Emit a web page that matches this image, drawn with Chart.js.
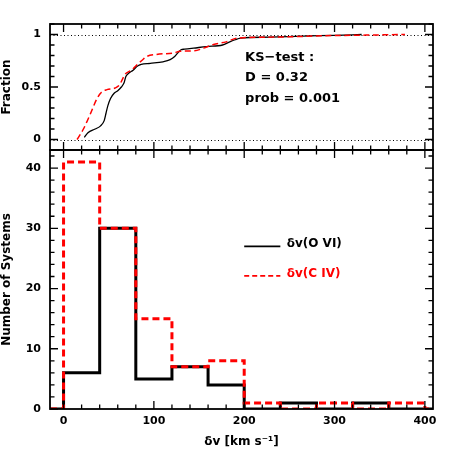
<!DOCTYPE html>
<html>
<head>
<meta charset="utf-8">
<script src="https://cdn.jsdelivr.net/npm/chart.js@4"></script>
<style>
  html, body { margin: 0; padding: 0; background: #fff; }
  #wrap { position: relative; width: 458px; height: 458px; }
  canvas { position: absolute; left: 0; top: 0; }
</style>
</head>
<body>
<div id="wrap">
  <canvas id="canvas_cdf" width="458" height="458"></canvas>
  <canvas id="canvas_hist" width="458" height="458"></canvas>
</div>
<script>

// histogram bins (km/s) and counts
var binEdges = [0, 40, 80, 120, 160, 200, 240, 280, 320, 360, 400];
var ovi_counts = [6, 30, 5, 7, 4, 0, 1, 0, 1, 0];
var civ_counts = [41, 30, 15, 7, 8, 1, 0, 1, 0, 1];

// cumulative distributions
var ovi_cdf_v = [23, 27, 35, 41, 45, 47, 49, 52, 56, 60, 64, 67, 69, 72, 77, 82, 86, 96, 110, 118, 123, 127, 130, 134, 144, 158, 176, 184, 190, 196, 228, 265, 300, 330];
var ovi_cdf_f = [0.02, 0.065, 0.1, 0.13, 0.18, 0.25, 0.32, 0.39, 0.44, 0.465, 0.5, 0.54, 0.6, 0.63, 0.66, 0.7, 0.715, 0.725, 0.74, 0.76, 0.79, 0.83, 0.855, 0.86, 0.87, 0.885, 0.9, 0.93, 0.95, 0.965, 0.975, 0.985, 0.992, 1.0];
var civ_cdf_v = [15, 22, 30, 37, 42, 48, 57, 62, 65, 68, 75, 81, 87, 92, 103, 122, 129, 145, 155, 166, 180, 192, 230, 300, 340, 378];
var civ_cdf_f = [0, 0.1, 0.25, 0.39, 0.45, 0.475, 0.49, 0.52, 0.57, 0.62, 0.66, 0.71, 0.755, 0.79, 0.81, 0.825, 0.84, 0.845, 0.87, 0.905, 0.93, 0.965, 0.975, 0.99, 0.995, 1.0];

var xTicks = [0, 100, 200, 300, 400];
var fracTicks = [0, 0.5, 1];
var countTicks = [0, 10, 20, 30, 40];
var ksLines = ['KS\u2212test :', 'D = 0.32', 'prob = 0.001'];
var seriesLabels = ['\u03b4v(O VI)', '\u03b4v(C IV)'];

var X_MIN = -15, X_MAX = 409;

function steps(edges, counts) {
  var pts = [{x: X_MIN, y: 0}];
  for (var i = 0; i < counts.length; i++) pts.push({x: edges[i], y: counts[i]});
  pts.push({x: edges[edges.length - 1], y: 0});
  pts.push({x: X_MAX, y: 0});
  return pts;
}

function pairs(xs, ys) {
  var pts = [];
  for (var i = 0; i < xs.length; i++) pts.push({x: xs[i], y: ys[i]});
  return pts;
}

function setTicks(list) {
  return function(scale) { scale.ticks = list.map(function(v) { return {value: v}; }); };
}

Chart.defaults.font.family = 'DejaVu Sans';
Chart.defaults.color = '#000';

// frame with inward ticks on all four sides
var frameTicks = {
  id: 'frameTicks',
  beforeDatasetsDraw: function(chart, args, opts) {
    var ctx = chart.ctx, a = chart.chartArea, ys = chart.scales.y;
    if (!opts.refLines) return;
    ctx.save();
    ctx.strokeStyle = '#000';
    ctx.lineWidth = 1;
    ctx.setLineDash([1, 2.5]);
    opts.refLines.forEach(function(v) {
      var p = Math.round(ys.getPixelForValue(v)) + 0.5;
      ctx.beginPath(); ctx.moveTo(a.left, p); ctx.lineTo(a.right, p); ctx.stroke();
    });
    ctx.restore();
  },
  afterDraw: function(chart, args, opts) {
    var ctx = chart.ctx, a = chart.chartArea;
    var xs = chart.scales.x, ys = chart.scales.y;
    function list(scale, step) {
      var out = [];
      for (var k = Math.ceil(scale.min / step - 1e-9); k * step <= scale.max + 1e-9; k++) out.push(k * step);
      return out;
    }
    function isMajor(scale, v) {
      return scale.ticks.some(function(t) { return Math.abs(t.value - v) < 1e-6; });
    }
    ctx.save();
    ctx.strokeStyle = '#000';
    ctx.lineWidth = 1.3;
    ctx.beginPath();
    list(xs, opts.xMinor).forEach(function(v) {
      var p = xs.getPixelForValue(v), len = isMajor(xs, v) ? 8 : 4.5;
      ctx.moveTo(p, a.bottom); ctx.lineTo(p, a.bottom - len);
      ctx.moveTo(p, a.top); ctx.lineTo(p, a.top + len);
    });
    list(ys, opts.yMinor).forEach(function(v) {
      var p = ys.getPixelForValue(v), len = isMajor(ys, v) ? 8 : 4.5;
      ctx.moveTo(a.left, p); ctx.lineTo(a.left + len, p);
      ctx.moveTo(a.right, p); ctx.lineTo(a.right - len, p);
    });
    ctx.stroke();
    ctx.lineWidth = 1.8;
    ctx.strokeRect(a.left, a.top, a.right - a.left, a.bottom - a.top);

    // notes in data coordinates
    ctx.textBaseline = 'middle';
    ctx.textAlign = 'left';
    (opts.notes || []).forEach(function(n) {
      ctx.font = 'bold 13px "DejaVu Sans"';
      ctx.fillStyle = '#000';
      ctx.fillText(n.text, xs.getPixelForValue(n.x), ys.getPixelForValue(n.y));
    });
    // legend
    (opts.legend || []).forEach(function(e) {
      var ds = chart.data.datasets[e.index];
      var y = ys.getPixelForValue(e.y);
      ctx.strokeStyle = ds.borderColor;
      ctx.lineWidth = 1.6;
      ctx.setLineDash(ds.borderDash ? [5, 3] : []);
      ctx.beginPath();
      ctx.moveTo(xs.getPixelForValue(e.x0), y);
      ctx.lineTo(xs.getPixelForValue(e.x1), y);
      ctx.stroke();
      ctx.setLineDash([]);
      ctx.fillStyle = ds.borderColor;
      ctx.font = 'bold 12px "DejaVu Sans"';
      ctx.fillText(ds.label, xs.getPixelForValue(e.xt), y - 2);
    });
    ctx.restore();
  }
};

var tickFont = {size: 11, weight: 'bold'};
var titleFont = {size: 12, weight: 'bold'};

// Upper panel: cumulative fractions
new Chart(document.getElementById('canvas_cdf').getContext('2d'), {
  type: 'line',
  data: {
    datasets: [{
      label: seriesLabels[1],
      data: pairs(civ_cdf_v, civ_cdf_f),
      borderColor: '#ff0000',
      borderWidth: 1.5,
      borderDash: [6, 3.5],
      pointRadius: 0,
      cubicInterpolationMode: 'monotone',
      order: 0
    }, {
      label: seriesLabels[0],
      data: pairs(ovi_cdf_v, ovi_cdf_f),
      borderColor: '#000000',
      borderWidth: 1.3,
      pointRadius: 0,
      cubicInterpolationMode: 'monotone',
      order: 1
    }]
  },
  options: {
    responsive: false,
    animation: false,
    layout: {padding: {left: 0, right: 25, top: 24, bottom: 0}},
    plugins: {
      legend: {display: false},
      tooltip: {enabled: false},
      frameTicks: {
        xMinor: 20, yMinor: 0.1, refLines: [0, 1],
        notes: [
          {text: ksLines[0], x: 201, y: 0.78},
          {text: ksLines[1], x: 201, y: 0.585},
          {text: ksLines[2], x: 201, y: 0.39}
        ]
      }
    },
    scales: {
      x: {
        type: 'linear', min: X_MIN, max: X_MAX,
        afterBuildTicks: setTicks(xTicks),
        afterFit: function(s) { s.height = 308; },
        ticks: {display: false},
        grid: {display: false, drawTicks: false},
        border: {display: false}
      },
      y: {
        type: 'linear', min: -0.1, max: 1.1,
        afterBuildTicks: setTicks(fracTicks),
        afterFit: function(s) { s.width = 50; },
        ticks: {font: tickFont, padding: 9, callback: function(v) { return String(v); }},
        grid: {display: false, drawTicks: false},
        border: {display: false},
        title: {display: true, text: 'Fraction', font: titleFont, padding: 0}
      }
    }
  },
  plugins: [frameTicks]
});

// Lower panel: histograms
new Chart(document.getElementById('canvas_hist').getContext('2d'), {
  type: 'line',
  data: {
    datasets: [{
      label: seriesLabels[0],
      data: steps(binEdges, ovi_counts),
      borderColor: '#000000',
      borderWidth: 3,
      stepped: true,
      pointRadius: 0,
      order: 1
    }, {
      label: seriesLabels[1],
      data: steps(binEdges, civ_counts),
      borderColor: '#ff0000',
      borderWidth: 3,
      borderDash: [7, 4],
      stepped: true,
      pointRadius: 0,
      order: 0
    }]
  },
  options: {
    responsive: false,
    animation: false,
    layout: {padding: {left: 0, right: 25, top: 150, bottom: 0}},
    plugins: {
      legend: {display: false},
      tooltip: {enabled: false},
      frameTicks: {
        xMinor: 20, yMinor: 2,
        legend: [
          {index: 0, x0: 200, x1: 240, xt: 247, y: 27},
          {index: 1, x0: 200, x1: 240, xt: 247, y: 22.1}
        ]
      }
    },
    scales: {
      x: {
        type: 'linear', min: X_MIN, max: X_MAX,
        afterBuildTicks: setTicks(xTicks),
        afterFit: function(s) { s.height = 49; },
        ticks: {font: tickFont, padding: 6, maxRotation: 0, callback: function(v) { return String(v); }},
        grid: {display: false, drawTicks: false},
        border: {display: false},
        title: {display: true, text: '\u03b4v [km s\u207b\u00b9]', font: titleFont, padding: {top: 0, bottom: 9}}
      },
      y: {
        type: 'linear', min: 0, max: 43,
        afterBuildTicks: setTicks(countTicks),
        afterFit: function(s) { s.width = 50; },
        ticks: {font: tickFont, padding: 9, callback: function(v) { return String(v); }},
        grid: {display: false, drawTicks: false},
        border: {display: false},
        title: {display: true, text: 'Number of Systems', font: titleFont, padding: 0}
      }
    }
  },
  plugins: [frameTicks]
});

</script>
</body>
</html>
